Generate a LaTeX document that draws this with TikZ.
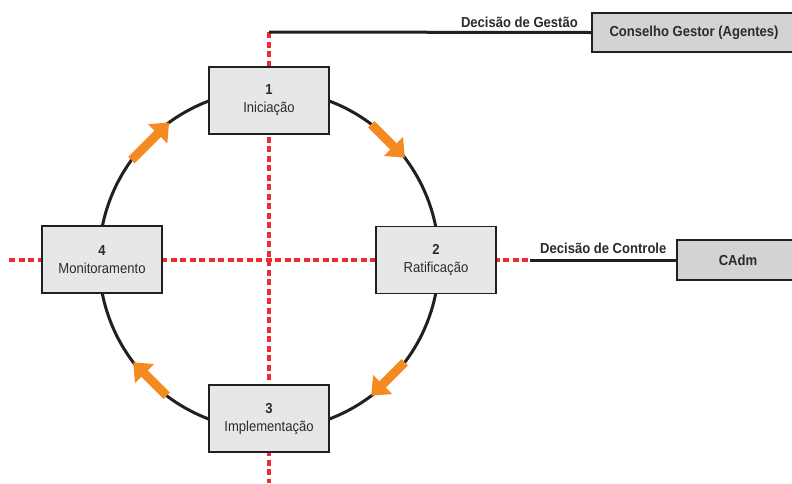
\documentclass[tikz,border=0pt]{standalone}
\usepackage{fontspec}
\setmainfont[FakeStretch=0.9]{Liberation Sans}
\usetikzlibrary{arrows.meta,calc}
\definecolor{boxfill}{HTML}{E6E7E8}
\definecolor{sidefill}{HTML}{D1D3D4}
\definecolor{inkline}{HTML}{231F20}
\definecolor{axisred}{HTML}{EE2A36}
\definecolor{flow}{HTML}{F58A20}
\definecolor{labelink}{HTML}{2B2B2B}
\tikzset{
  phase/.style={draw=inkline, fill=boxfill, line width=1.6pt,
    minimum width=120pt, minimum height=67pt, align=center,
    text=labelink, font=\fontsize{14.5}{18}\selectfont},
  body/.style={draw=inkline, fill=sidefill, line width=2pt,
    text=labelink, font=\bfseries\fontsize{14.5}{16}\selectfont},
  axis/.style={draw=axisred, line width=3.2pt, dash pattern=on 6pt off 3.5pt},
  link/.style={draw=inkline, line width=3pt},
  ring/.style={draw=inkline, line width=3pt},
  flowarrow/.style={draw=flow, line width=9pt,
    -{Triangle[length=16pt,width=26pt]}},
  caption/.style={text=labelink, font=\bfseries\fontsize{14.5}{16}\selectfont, inner sep=0pt}
}
\begin{document}
\begin{tikzpicture}[x=1pt,y=-1pt]
  \clip (0,0) rectangle (792,483);
  \fill[white] (0,0) rectangle (792,483);

  % reference points
  \coordinate (c) at (269,260);
  \coordinate (vtop) at (269,32);
  \coordinate (vbot) at (269,483);
  \coordinate (hleft) at (9,260);
  \coordinate (hright) at (530,260);

  % side bodies
  \node[body, minimum width=204pt, minimum height=39pt] (cg) at (694,32.5) {Conselho Gestor (Agentes)};
  \node[body, minimum width=122pt, minimum height=40pt] (cadm) at (738,260) {CAdm};

  % red axes
  \draw[axis] (vtop) -- (vbot);
  \draw[axis] (hleft) -- (hright);

  % decision links
  \draw[link] (vtop) -- (cg.west);
  \draw[link] (hright) -- (cadm.west);
  \node[caption, anchor=base east] (lblg) at (578,27) {Decisão de Gestão};
  \node[caption, anchor=base west] (lblc) at (540,253) {Decisão de Controle};

  % cycle ring
  \draw[ring] (c) circle[radius=170];

  % flow arrows along the ring
  \coordinate (a1s) at ([shift={(c)}]-144:170);
  \coordinate (a1e) at ([shift={(c)}]-126:170);
  \coordinate (a2s) at ([shift={(c)}]-53:170);
  \coordinate (a2e) at ([shift={(c)}]-37:170);
  \coordinate (a3s) at ([shift={(c)}]37:170);
  \coordinate (a3e) at ([shift={(c)}]53:170);
  \coordinate (a4s) at ([shift={(c)}]127:170);
  \coordinate (a4e) at ([shift={(c)}]143:170);
  \draw[flowarrow] (a1s) -- (a1e);
  \draw[flowarrow] (a2s) -- (a2e);
  \draw[flowarrow] (a3s) -- (a3e);
  \draw[flowarrow] (a4s) -- (a4e);

  % phases
  \node[phase] (p1) at (269,100.5) {\textbf{1}\\Iniciação};
  \node[phase] (p2) at (436,260) {\textbf{2}\\Ratificação};
  \node[phase] (p3) at (269,418.5) {\textbf{3}\\Implementação};
  \node[phase] (p4) at (102,259.5) {\textbf{4}\\Monitoramento};
\end{tikzpicture}
\end{document}
